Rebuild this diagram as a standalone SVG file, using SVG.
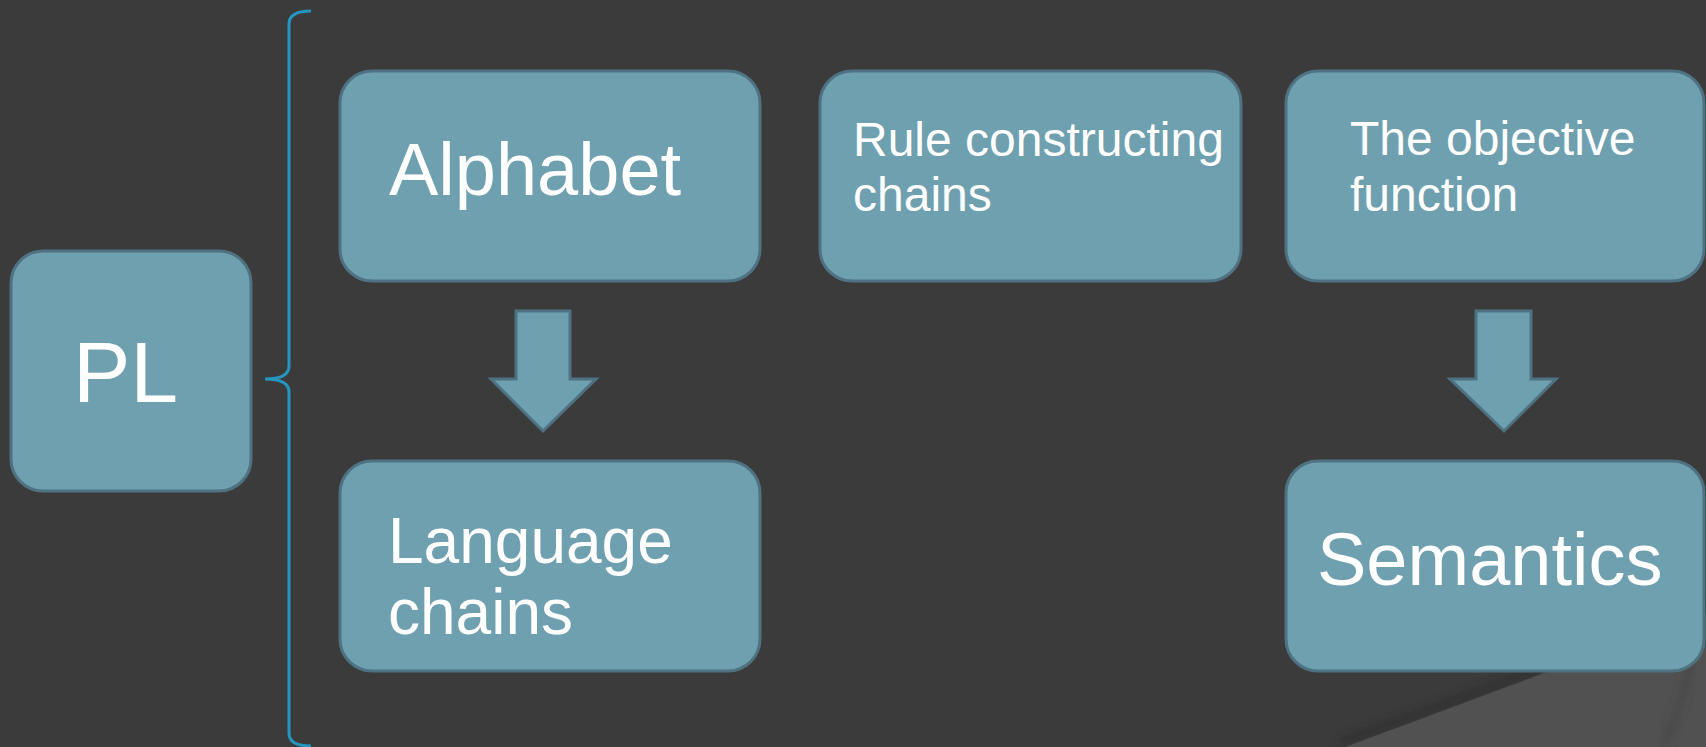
<svg xmlns="http://www.w3.org/2000/svg" width="1706" height="747" viewBox="0 0 1706 747">
<defs>
<style>
.box{fill:#6fa0b0;stroke:#4e7282;stroke-width:3}
.arrow{fill:#6fa0b0;stroke:#4e7282;stroke-width:3;stroke-linejoin:miter}
.t{font-family:"Liberation Sans",Arial,sans-serif;fill:#ffffff}
.brace{fill:none;stroke:#2596c0;stroke-width:3}
</style>
<filter id="blur" x="-10%" y="-50%" width="120%" height="200%"><feGaussianBlur stdDeviation="4"/></filter>
</defs>
<rect width="1706" height="747" fill="#3b3b3b"/>
<g id="curl">
<path d="M1340,742 Q1500,684 1706,606" fill="none" stroke="#2c2c2c" stroke-width="6" filter="url(#blur)" opacity="0.8"/>
<path d="M1345,747 Q1500,690 1706,612 L1706,747 Z" fill="#515151"/>
<path d="M1693,655 Q1682,705 1663,747" fill="none" stroke="#444444" stroke-width="5" filter="url(#blur)"/>
</g>
<g id="brace">
<path class="brace" d="M311,11 Q289,11 289,24 L289,366 Q289,379 265,379 Q289,379 289,392 L289,733 Q289,746 311,746"/>
</g>
<g id="connectors">
<polygon class="arrow" points="516,311 570,311 570,379 596,379 543,431 491,379 516,379"/>
<polygon class="arrow" points="1476,311 1531,311 1531,379 1556,379 1504,431 1450,379 1476,379"/>
</g>
<g id="pl">
<rect class="box" x="11" y="251" width="240" height="240" rx="32"/>
<text class="t" x="73" y="402" font-size="86">PL</text>
</g>
<g id="alphabet">
<rect class="box" x="340" y="71" width="420" height="210" rx="32"/>
<text class="t" x="389" y="195" font-size="74">Alphabet</text>
</g>
<g id="rule">
<rect class="box" x="820" y="71" width="421" height="210" rx="32"/>
<text class="t" x="853" y="156" font-size="48">Rule constructing<tspan x="853" y="211">chains</tspan></text>
</g>
<g id="objective">
<rect class="box" x="1286" y="71" width="418" height="210" rx="32"/>
<text class="t" x="1350" y="155" font-size="48">The objective<tspan x="1350" y="211">function</tspan></text>
</g>
<g id="language">
<rect class="box" x="340" y="461" width="420" height="210" rx="32"/>
<text class="t" x="388" y="563" font-size="64">Language<tspan x="388" y="634">chains</tspan></text>
</g>
<g id="semantics">
<rect class="box" x="1286" y="461" width="418" height="210" rx="32"/>
<text class="t" x="1317" y="585" font-size="74">Semantics</text>
</g>
</svg>
